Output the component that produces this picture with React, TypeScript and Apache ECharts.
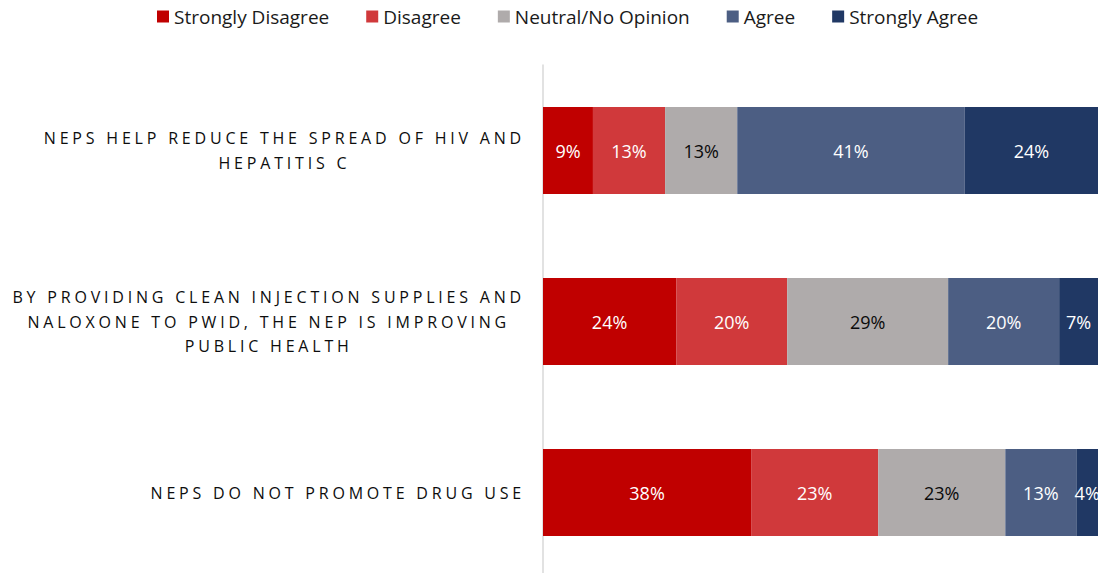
import React, { useEffect, useRef } from "react";
import * as echarts from "echarts";

const categories = [
  "NEPS HELP REDUCE THE SPREAD OF HIV AND\nHEPATITIS C",
  "BY PROVIDING CLEAN INJECTION SUPPLIES AND\nNALOXONE TO PWID, THE NEP IS IMPROVING\nPUBLIC HEALTH",
  "NEPS DO NOT PROMOTE DRUG USE",
];
const seriesNames = ["Strongly Disagree", "Disagree", "Neutral/No Opinion", "Agree", "Strongly Agree"];
const stronglyDisagree = [9, 24, 37.5];
const disagree = [13, 20, 22.9];
const neutral = [13, 29, 22.9];
const agree = [41, 20, 12.8];
const stronglyAgree = [24, 7, 3.9];
const seriesValues = [stronglyDisagree, disagree, neutral, agree, stronglyAgree];
const seriesColors = ["#C00000", "#D0393B", "#AFABAB", "#4C5E83", "#203864"];
const labelColors = ["#ffffff", "#ffffff", "#0a0a0a", "#ffffff", "#ffffff"];

const FONT = "'Open Sans', 'Noto Sans', sans-serif";
const CAT_SIZE = 16;
const LS = 3.8;
const CAT_COLOR = "#0d0d0d";

function measure(text: string, font: string): number {
  const ctx = document.createElement("canvas").getContext("2d");
  if (!ctx) return text.length * 9;
  ctx.font = font;
  return ctx.measureText(text).width;
}

export default function App() {
  const ref = useRef<HTMLDivElement>(null);
  useEffect(() => {
    if (!ref.current) return;
    const chart = echarts.init(ref.current, undefined, { renderer: "svg" });
    const rich: Record<string, any> = {};
    categories.forEach((c, i) => {
      const lines = c.split("\n");
      const w = Math.max(
        ...lines.map((l) => measure(l, `${CAT_SIZE}px 'Open Sans'`) + l.length * LS)
      );
      rich["c" + i] = {
        width: w,
        align: "center",
        fontFamily: FONT,
        fontSize: CAT_SIZE,
        color: CAT_COLOR,
        lineHeight: 24.5,
      };
    });
    chart.setOption({
      animation: false,
      legend: {
        top: 2,
        left: 152,
        itemWidth: 12,
        itemHeight: 12,
        itemGap: 37,
        icon: "rect",
        textStyle: { fontFamily: FONT, fontSize: 19, color: "#1a1a1a" },
        data: seriesNames,
      },
      grid: { left: 543, right: 0, top: 65, height: 513, containLabel: false },
      xAxis: { type: "value", min: 0, max: 100, show: false },
      yAxis: {
        type: "category",
        inverse: true,
        data: categories,
        axisLine: { show: true, lineStyle: { color: "#D9D9D9", width: 1.5 } },
        axisTick: { show: false },
        axisLabel: {
          margin: 18,
          align: "right",
          formatter: (value: string, index: number) =>
            value
              .split("\n")
              .map((l) => `{c${index}|${l}}`)
              .join("\n"),
          rich,
        },
      },
      series: seriesNames.map((name, si) => ({
        name,
        type: "bar",
        stack: "total",
        barWidth: 87,
        data: seriesValues[si],
        itemStyle: { color: seriesColors[si] },
        label: {
          show: true,
          position: "inside",
          color: labelColors[si],
          fontFamily: FONT,
          fontSize: 18,
          formatter: (p: any) => Math.round(p.value) + "%",
        },
      })),
    });
    return () => chart.dispose();
  }, []);
  return (
    <div style={{ position: "fixed", left: 0, top: 0, width: 1098, height: 573, overflow: "hidden", background: "#ffffff" }}>
      <style>{`text[fill="${CAT_COLOR}"], text[fill="${CAT_COLOR}" i] { letter-spacing: ${LS}px; }`}</style>
      <div ref={ref} style={{ width: 1098, height: 590 }} />
    </div>
  );
}
